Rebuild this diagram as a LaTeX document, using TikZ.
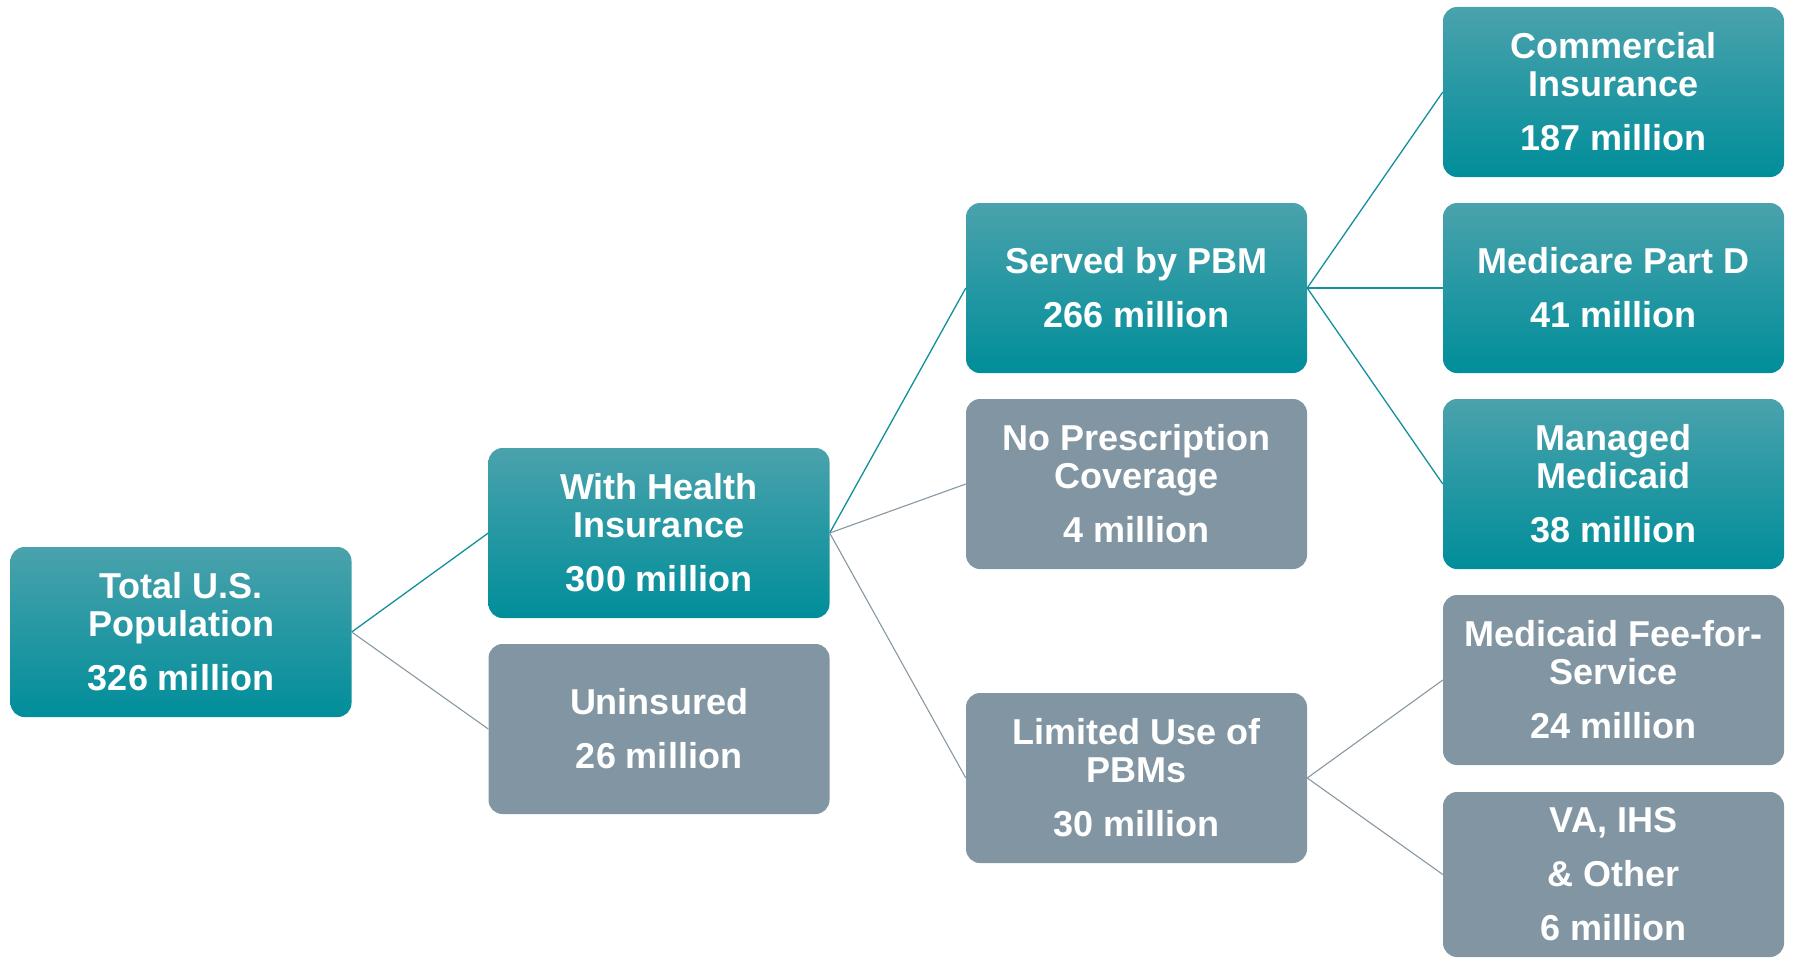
\documentclass[tikz,border=0pt]{standalone}
\usepackage{fontspec}
\setmainfont{Liberation Sans}
\definecolor{tealTop}{HTML}{4AA2AC}
\definecolor{tealMid}{HTML}{0298A4}
\definecolor{tealBot}{HTML}{008E9A}
\definecolor{boxGray}{HTML}{8196A2}
\definecolor{lineTeal}{HTML}{12909B}
\definecolor{lineGray}{HTML}{8798A3}
\tikzset{
  box/.style={rounded corners=14pt, minimum width=341pt, minimum height=170pt,
    inner sep=0pt, align=center, text=white,
    font=\fontsize{36}{38}\selectfont\bfseries},
  tealbox/.style={box, top color=tealTop, middle color=tealMid, bottom color=tealBot},
  graybox/.style={box, fill=boxGray},
  tealline/.style={draw=lineTeal, line width=1.3pt},
  grayline/.style={draw=lineGray, line width=1.1pt}
}
\begin{document}
\begin{tikzpicture}[x=1pt,y=-1pt]
\useasboundingbox (0,0) rectangle (1793,958);
\node[tealbox] (total) at (181,632) {Total U.S.\\Population\\[16pt]326 million};
\node[tealbox] (health) at (659,533) {With Health\\Insurance\\[16pt]300 million};
\node[graybox] (unins) at (659,729) {Uninsured\\[16pt]26 million};
\node[tealbox] (served) at (1136.5,288) {Served by PBM\\[16pt]266 million};
\node[graybox] (norx) at (1136.5,484) {No Prescription\\Coverage\\[16pt]4 million};
\node[graybox] (limited) at (1136.5,778) {Limited Use of\\PBMs\\[16pt]30 million};
\node[tealbox] (comm) at (1613.5,92) {Commercial\\Insurance\\[16pt]187 million};
\node[tealbox] (medicare) at (1613.5,288) {Medicare Part D\\[16pt]41 million};
\node[tealbox] (managed) at (1613.5,484) {Managed\\Medicaid\\[16pt]38 million};
\node[graybox] (ffs) at (1613.5,680) {Medicaid Fee-for-\\Service\\[16pt]24 million};
\node[graybox, minimum height=165pt] (va) at (1613.5,874.5) {VA, IHS\\[16pt]\& Other\\[16pt]6 million};
\draw[tealline] (total.east) -- (health.west);
\draw[grayline] (total.east) -- (unins.west);
\draw[tealline] (health.east) -- (served.west);
\draw[grayline] (health.east) -- (norx.west);
\draw[grayline] (health.east) -- (limited.west);
\draw[tealline] (served.east) -- (comm.west);
\draw[tealline] (served.east) -- (medicare.west);
\draw[tealline] (served.east) -- (managed.west);
\draw[grayline] (limited.east) -- (ffs.west);
\draw[grayline] (limited.east) -- (va.west);
\end{tikzpicture}
\end{document}
